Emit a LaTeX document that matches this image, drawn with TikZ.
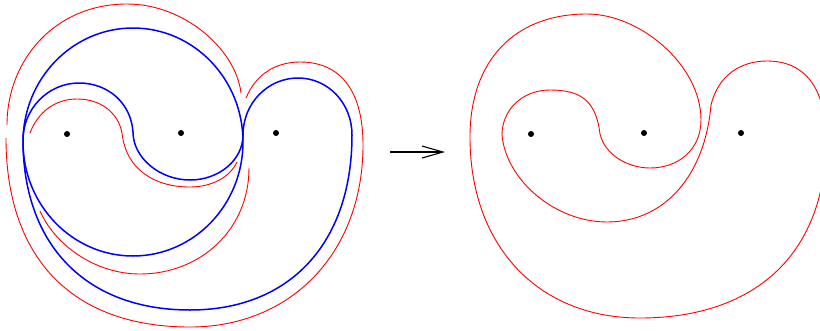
\documentclass[tikz,border=0pt]{standalone}
\usetikzlibrary{arrows.meta}
\begin{document}
\begin{tikzpicture}[x=1pt,y=-1pt,
  bluecurve/.style={draw=blue, line width=1.5pt, line join=round},
  redcurve/.style={draw=red, line width=0.9pt, line join=round},
  dot/.style={circle, fill=black, inner sep=0pt, minimum size=6pt},
  arrowline/.style={draw=black, line width=1.1pt, -{Straight Barb[length=21pt,width=12pt]}}
  ]
\clip (0,0) rectangle (820,330);
\fill[white] (0,0) rectangle (820,330);

% ---------- left figure ----------
% blue circle
\draw[bluecurve] (133,142) ellipse [x radius=110, y radius=114];
% blue closed curve
\draw[bluecurve] (23,140)
  .. controls (23,109) and (48,83) .. (79,83)
  .. controls (108,83) and (131,103) .. (133,132)
  .. controls (133,158) and (160,180) .. (190,180)
  .. controls (219,180) and (243,160) .. (243,135)
  .. controls (243,103) and (268,78) .. (298,78)
  .. controls (328,78) and (352,103) .. (352,135)
  .. controls (352,243) and (290,310) .. (190,310)
  .. controls (86,310) and (23,245) .. (23,140) -- cycle;

% red outer, upper part
\draw[redcurve] (7,125)
  .. controls (7,60) and (55,4) .. (127,4)
  .. controls (185,4) and (236,50) .. (241,93);
% red outer, lower part
\draw[redcurve] (246,98)
  .. controls (256,74) and (276,62) .. (300,62)
  .. controls (340,62) and (363,90) .. (363,145)
  .. controls (363,252) and (292,327) .. (190,327)
  .. controls (72,327) and (6,258) .. (6,138);
% red inner S
\draw[redcurve] (30,133)
  .. controls (38,112) and (55,99) .. (77,99)
  .. controls (100,99) and (118,112) .. (122,133)
  .. controls (126,170) and (155,187) .. (190,187)
  .. controls (212,187) and (230,177) .. (237,162);
% red arc below circle
\draw[redcurve] (249,168)
  .. controls (249,230) and (200,274) .. (140,274)
  .. controls (95,274) and (55,245) .. (40,211);

\node[dot] (p1) at (67,134) {};
\node[dot] (p2) at (181,133) {};
\node[dot] (p3) at (276,133) {};

% ---------- arrow ----------
\coordinate (a1) at (390,152);
\coordinate (a2) at (445,152);
\draw[arrowline] (a1) -- (a2);

% ---------- right figure ----------
\draw[redcurve] (470,137)
  .. controls (470,60) and (515,14) .. (587,14)
  .. controls (640,14) and (701,65) .. (701,120)
  .. controls (701,150) and (678,168) .. (650,168)
  .. controls (628,168) and (605,155) .. (600,134)
  .. controls (596,100) and (580,90) .. (550,90)
  .. controls (522,90) and (502,110) .. (502,135)
  .. controls (506,180) and (555,222) .. (607,222)
  .. controls (665,222) and (705,175) .. (711,105)
  .. controls (718,76) and (740,61) .. (767,61)
  .. controls (805,61) and (826,88) .. (826,140)
  .. controls (826,252) and (757,318) .. (640,318)
  .. controls (538,318) and (470,246) .. (470,137) -- cycle;

\node[dot] (q1) at (531,134) {};
\node[dot] (q2) at (644,133) {};
\node[dot] (q3) at (741,133) {};
\end{tikzpicture}
\end{document}
